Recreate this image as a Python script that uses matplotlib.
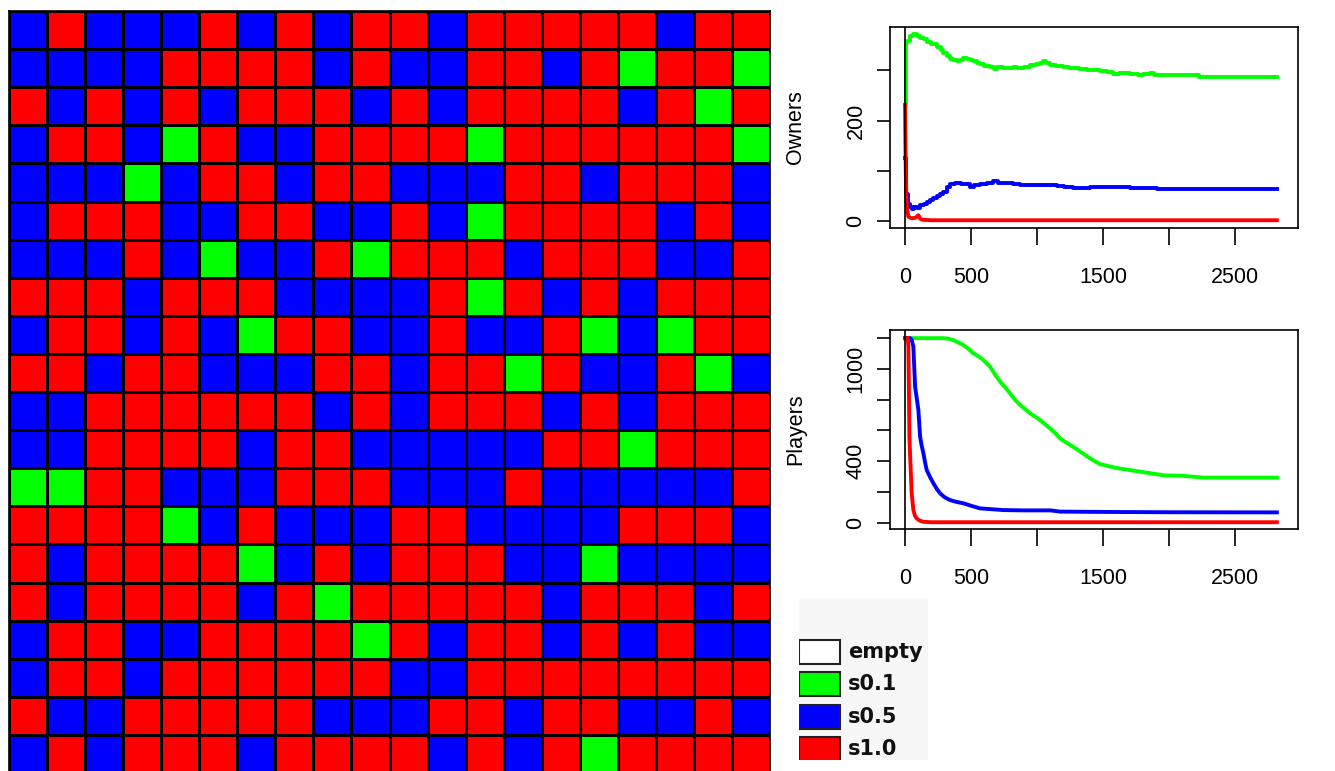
import matplotlib
matplotlib.use("Agg")
import matplotlib.pyplot as plt
import numpy as np
from matplotlib.colors import ListedColormap
from matplotlib.patches import Rectangle

# legend categories and colours
categories = ["empty", "s0.1", "s0.5", "s1.0"]
colors = ["#FFFFFF", "#00FF00", "#0000FF", "#FF0000"]

# grid state: E empty, G s0.1, B s0.5, R s1.0 (row 0 = top)
grid_rows = [
    "BRBBBRBRBRRBRRRRRBRR",
    "BBBBRRRRBRBBRRBRGRRG",
    "RBRBRBRRRBRBRRRRBRGR",
    "BRRBGRBBRRRRGRRRRRRG",
    "BBBGBRRBRRBBBRRBRRRB",
    "BRRRBBRRBBRBGRRRRBRB",
    "BBBRBGBBRGRRRBRRRBBR",
    "RRRBRRRBBBBRGRBRBRRR",
    "BRRBRBGRRBBRBBRGBGRR",
    "RRBRRBBBRRBRRGRBBRGB",
    "BBRRRRRRBRBRRRBRBRRR",
    "BBRRRRBRRBBBBBRRGRRR",
    "GGRRBBBRRRBBBRBBBBBR",
    "RRRRGBRBBBRRBBBBRRRB",
    "RBRRRRGBRBRRRBBGBBBB",
    "RBRRRRBRGRRRRRBRRRBR",
    "BRRBBRRRRGRBRRBRBRBB",
    "BRRBRRRRRRBBRRRRRRRR",
    "RBBRRRRRBBBRRBRRBBRB",
    "BRBRRRBRRRRBRBRGRRRR",
]
code_of = {"E": 0, "G": 1, "B": 2, "R": 3}

# Owners over time
own_g_x = [0, 5, 13, 40, 63, 90, 114, 140, 164, 200, 240, 270, 290, 316, 340, 366, 390,
           417, 440, 467, 490, 518, 545, 568, 600, 644, 670, 694, 740, 780, 821, 850, 871,
           900, 947, 990, 1020, 1048, 1070, 1098, 1140, 1199, 1240, 1275, 1320, 1376, 1420,
           1477, 1530, 1578, 1620, 1704, 1760, 1800, 1856, 1881, 1950, 2050, 2150, 2209,
           2222, 2400, 2600, 2815]
own_g_y = [231, 354, 358, 368, 373, 369, 364, 362, 357, 352, 347, 340, 334, 328, 322, 321,
           319, 321, 324, 322, 320, 318, 314, 312, 309, 306, 303, 306, 305, 304, 306, 304,
           304, 307, 310, 312, 315, 318, 315, 311, 309, 306, 305, 304, 302, 301, 300,
           299, 297, 293, 294, 293, 291, 292, 294, 291, 291, 291, 291, 291,
           286, 286, 286, 286]

own_b_x = [0, 5, 10, 20, 35, 50, 70, 90, 114, 140, 164, 189, 215, 240, 265, 290, 316,
           341, 380, 420, 467, 492, 520, 568, 620, 669, 700, 750, 821, 871, 947, 1000,
           1073, 1150, 1200, 1275, 1400, 1500, 1654, 1700, 1800, 1906, 2200, 2500, 2815]
own_b_y = [125, 90, 55, 35, 28, 24, 29, 27, 32, 35, 38, 42, 46, 50, 55, 58, 68,
           75, 76, 75, 74, 69, 72, 74, 76, 79, 77, 76, 75, 73, 72, 73,
           72, 70, 68, 67, 68, 68, 68, 67, 67, 65, 65, 65, 65]

own_r_x = [0, 3, 6, 10, 15, 25, 50, 80, 100, 115, 130, 200, 2815]
own_r_y = [231, 150, 90, 48, 25, 9, 6, 7, 12, 5, 3, 2, 2]

# Players over time
ply_g_x = [0, 290, 330, 366, 400, 442, 480, 518, 560, 593, 644, 680, 720, 760, 795, 830,
           871, 910, 947, 985, 1023, 1060, 1098, 1140, 1174, 1210, 1250, 1290, 1326, 1365,
           1401, 1440, 1477, 1530, 1578, 1640, 1704, 1770, 1831, 1900, 1957, 2100, 2260,
           2500, 2815]
ply_g_y = [1200, 1200, 1196, 1187, 1173, 1155, 1130, 1101, 1080, 1057, 1014, 965, 917, 878,
           841, 802, 765, 738, 711, 690, 667, 640, 613, 580, 548, 527, 505, 484, 462, 440,
           418, 398, 381, 370, 360, 350, 342, 333, 325, 316, 308, 305, 293, 293, 293]

ply_b_x = [0, 38, 50, 63, 76, 90, 101, 114, 126, 139, 152, 164, 190, 215, 240, 265, 300,
           341, 390, 442, 500, 568, 650, 745, 900, 1100, 1174, 1500, 2000, 2815]
ply_b_y = [1200, 1200, 1190, 1144, 884, 800, 732, 559, 500, 451, 390, 342, 295, 256, 220,
           191, 165, 147, 135, 126, 110, 93, 88, 82, 80, 80, 72, 70, 68, 67]

ply_r_x = [0, 20, 25, 30, 33, 40, 45, 50, 63, 75, 88, 110, 139, 200, 2815]
ply_r_y = [1200, 1200, 1150, 800, 559, 400, 300, 191, 82, 45, 28, 14, 6, 3, 3]

plt.rcParams['font.family'] = ['Liberation Sans', 'DejaVu Sans']

fig = plt.figure(figsize=(13.35, 7.71), dpi=100)
W, H = 1335, 771

# ---- grid of cells ----
codes = np.array([[code_of[c] for c in row] for row in grid_rows])
axg = fig.add_axes([9 / W, -2 / H, 761 / W, 762 / H])
cmap = ListedColormap(colors)
axg.pcolormesh(codes, cmap=cmap, vmin=-0.5, vmax=3.5, edgecolors='black', linewidth=1.0)
axg.set_xlim(0, codes.shape[1])
axg.set_ylim(codes.shape[0], 0)
axg.set_xticks([])
axg.set_yticks([])
for s in axg.spines.values():
    s.set_linewidth(1.2)


def style_ts(ax, ylim, yticks, ylabels, ylab):
    ax.set_xlim(-114, 2975)
    ax.set_ylim(*ylim)
    ax.set_xticks([0, 500, 1000, 1500, 2000, 2500])
    ax.set_xticklabels(['0', '500', '', '1500', '', '2500'])
    ax.set_yticks(yticks)
    ax.set_yticklabels(ylabels, rotation=90, va='center')
    ax.tick_params(axis='y', length=9.5, width=1.2, pad=7.5, labelsize=15.5, direction='out')
    ax.tick_params(axis='x', length=12, width=1.2, pad=16, labelsize=15.5, direction='out')
    for s in ax.spines.values():
        s.set_linewidth(1.2)
    ax.axvline(0, color='black', lw=1.2)
    ax.set_ylabel(ylab, fontsize=15.5)
    ax.yaxis.set_label_coords(-0.205, 0.5)


ax1 = fig.add_axes([890 / W, 1 - 228 / H, 408 / W, 201 / H])
ax1.plot(own_g_x, own_g_y, color=colors[1], lw=2.8, drawstyle='steps-post')
ax1.plot(own_b_x, own_b_y, color=colors[2], lw=2.8, drawstyle='steps-post')
ax1.plot(own_r_x, own_r_y, color=colors[3], lw=2.8)
style_ts(ax1, (-13.4, 386), [0, 100, 200, 300], ['0', '', '200', ''], 'Owners')

ax2 = fig.add_axes([890 / W, 1 - 529 / H, 408 / W, 199 / H])
ax2.plot(ply_g_x, ply_g_y, color=colors[1], lw=2.8)
ax2.plot(ply_b_x, ply_b_y, color=colors[2], lw=2.8)
ax2.plot(ply_r_x, ply_r_y, color=colors[3], lw=2.8)
style_ts(ax2, (-41, 1253), [0, 200, 400, 600, 800, 1000, 1200],
         ['0', '', '400', '', '', '1000', ''], 'Players')

# ---- legend ----
axl = fig.add_axes([799 / W, 1 - 760 / H, 129 / W, 162 / H])
axl.set_facecolor('#f7f7f7')
axl.set_xlim(0, 129)
axl.set_ylim(162, 0)
axl.set_xticks([])
axl.set_yticks([])
for s in axl.spines.values():
    s.set_visible(False)
for i, (lab, col) in enumerate(zip(categories, colors)):
    yc = 54 + i * 32.3
    axl.add_patch(Rectangle((0.5, yc - 12), 41, 24, facecolor=col, edgecolor='#222222', lw=1.5))
    axl.text(49, yc, lab, fontsize=15, fontweight='bold', family='DejaVu Sans',
             va='center', ha='left', color='#111111')

fig.savefig('out.png', dpi=100)
